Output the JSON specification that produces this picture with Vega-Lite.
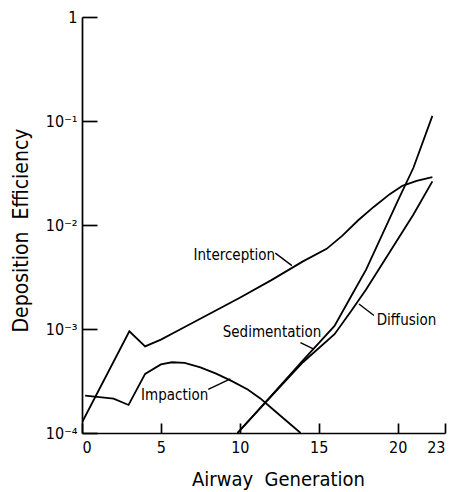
{
  "$schema": "https://vega.github.io/schema/vega-lite/v6.json",
  "width": 363,
  "height": 416,
  "autosize": "none",
  "padding": {"left": 82, "top": 17, "right": 15, "bottom": 59},
  "background": "white",
  "config": {
    "view": {"stroke": null},
    "font": "DejaVu Sans Condensed",
    "axis": {
      "grid": false,
      "domainColor": "black",
      "domainWidth": 1.7,
      "tickColor": "black",
      "tickWidth": 1.7,
      "labelColor": "black",
      "titleColor": "black",
      "labelFont": "DejaVu Sans Condensed",
      "titleFont": "DejaVu Sans Condensed",
      "titleFontWeight": "normal"
    }
  },
  "datasets": {
    "curves": [
      {"gen": 0, "eff": 0.000126, "mech": "Interception"},
      {"gen": 3, "eff": 0.00095, "mech": "Interception"},
      {"gen": 4, "eff": 0.00068, "mech": "Interception"},
      {"gen": 5, "eff": 0.00079, "mech": "Interception"},
      {"gen": 6, "eff": 0.00095, "mech": "Interception"},
      {"gen": 8, "eff": 0.00138, "mech": "Interception"},
      {"gen": 10, "eff": 0.0020, "mech": "Interception"},
      {"gen": 12, "eff": 0.00295, "mech": "Interception"},
      {"gen": 14, "eff": 0.00447, "mech": "Interception"},
      {"gen": 15.5, "eff": 0.0059, "mech": "Interception"},
      {"gen": 16.5, "eff": 0.0079, "mech": "Interception"},
      {"gen": 17.5, "eff": 0.0111, "mech": "Interception"},
      {"gen": 18.5, "eff": 0.0150, "mech": "Interception"},
      {"gen": 19.5, "eff": 0.0198, "mech": "Interception"},
      {"gen": 20.3, "eff": 0.0238, "mech": "Interception"},
      {"gen": 21.2, "eff": 0.0265, "mech": "Interception"},
      {"gen": 22.2, "eff": 0.0288, "mech": "Interception"},
      {"gen": 0.2, "eff": 0.000229, "mech": "Impaction"},
      {"gen": 2, "eff": 0.000214, "mech": "Impaction"},
      {"gen": 2.95, "eff": 0.000186, "mech": "Impaction"},
      {"gen": 4, "eff": 0.00037, "mech": "Impaction"},
      {"gen": 5, "eff": 0.000457, "mech": "Impaction"},
      {"gen": 5.7, "eff": 0.000479, "mech": "Impaction"},
      {"gen": 6.5, "eff": 0.000472, "mech": "Impaction"},
      {"gen": 7.5, "eff": 0.000428, "mech": "Impaction"},
      {"gen": 8.5, "eff": 0.000372, "mech": "Impaction"},
      {"gen": 9.5, "eff": 0.000315, "mech": "Impaction"},
      {"gen": 10.5, "eff": 0.000262, "mech": "Impaction"},
      {"gen": 11.3, "eff": 0.000215, "mech": "Impaction"},
      {"gen": 12, "eff": 0.000174, "mech": "Impaction"},
      {"gen": 13, "eff": 0.000129, "mech": "Impaction"},
      {"gen": 13.85, "eff": 0.0001, "mech": "Impaction"},
      {"gen": 9.85, "eff": 0.0001, "mech": "Sedimentation"},
      {"gen": 12, "eff": 0.000229, "mech": "Sedimentation"},
      {"gen": 14, "eff": 0.0005, "mech": "Sedimentation"},
      {"gen": 16, "eff": 0.00107, "mech": "Sedimentation"},
      {"gen": 17, "eff": 0.0020, "mech": "Sedimentation"},
      {"gen": 18, "eff": 0.00372, "mech": "Sedimentation"},
      {"gen": 19, "eff": 0.00794, "mech": "Sedimentation"},
      {"gen": 20, "eff": 0.0170, "mech": "Sedimentation"},
      {"gen": 21, "eff": 0.0355, "mech": "Sedimentation"},
      {"gen": 22.2, "eff": 0.112, "mech": "Sedimentation"},
      {"gen": 9.85, "eff": 0.0001, "mech": "Diffusion"},
      {"gen": 12, "eff": 0.000226, "mech": "Diffusion"},
      {"gen": 14, "eff": 0.000479, "mech": "Diffusion"},
      {"gen": 16, "eff": 0.00089, "mech": "Diffusion"},
      {"gen": 17, "eff": 0.00145, "mech": "Diffusion"},
      {"gen": 18, "eff": 0.0024, "mech": "Diffusion"},
      {"gen": 19, "eff": 0.00417, "mech": "Diffusion"},
      {"gen": 20, "eff": 0.00724, "mech": "Diffusion"},
      {"gen": 21, "eff": 0.0126, "mech": "Diffusion"},
      {"gen": 22.2, "eff": 0.0263, "mech": "Diffusion"}
    ],
    "labels": [
      {"gen": 9.65, "eff": 0.0051, "text": "Interception"},
      {"gen": 5.87, "eff": 0.000234, "text": "Impaction"},
      {"gen": 12.04, "eff": 0.00093, "text": "Sedimentation"},
      {"gen": 20.56, "eff": 0.00123, "text": "Diffusion"}
    ],
    "leaders": [
      {"gen": 12.25, "eff": 0.00537, "gen2": 13.3, "eff2": 0.00407},
      {"gen": 8.0, "eff": 0.000263, "gen2": 9.4, "eff2": 0.000331},
      {"gen": 13.84, "eff": 0.00074, "gen2": 14.69, "eff2": 0.00064},
      {"gen": 18.5, "eff": 0.00135, "gen2": 17.55, "eff2": 0.00174}
    ]
  },
  "layer": [
    {
      "data": {"name": "curves"},
      "mark": {"type": "line", "color": "black", "strokeWidth": 1.8, "interpolate": "linear", "clip": true},
      "encoding": {
        "x": {
          "field": "gen", "type": "quantitative",
          "scale": {"domain": [0, 23], "nice": false, "zero": false},
          "axis": {
            "values": [0, 5, 10, 15, 20, 23],
            "tickSize": -10,
            "labelPadding": 16,
            "labelFontSize": 16,
            "title": "Airway\u00a0\u00a0Generation",
            "titleFontSize": 20,
            "titleX": 196,
            "titleY": 52,
            "titleAnchor": null,
            "titleAlign": "center",
            "titleBaseline": "alphabetic"
          }
        },
        "y": {
          "field": "eff", "type": "quantitative",
          "scale": {"type": "log", "domain": [0.0001, 1], "nice": false},
          "axis": {
            "values": [0.0001, 0.001, 0.01, 0.1, 1],
            "tickSize": -15,
            "labelPadding": 20,
            "labelFontSize": 16,
            "labelExpr": "datum.value > 0.5 ? '1' : datum.value > 0.05 ? '10⁻¹' : datum.value > 0.005 ? '10⁻²' : datum.value > 0.0005 ? '10⁻³' : '10⁻⁴'",
            "title": "Deposition\u00a0\u00a0Efficiency",
            "titleFontSize": 21,
            "titleAngle": -90,
            "titleX": -55,
            "titleY": 213,
            "titleAlign": "center",
            "titleBaseline": "alphabetic"
          }
        },
        "detail": {"field": "mech", "type": "nominal"}
      }
    },
    {
      "data": {"name": "leaders"},
      "mark": {"type": "rule", "color": "black", "strokeWidth": 1.4},
      "encoding": {
        "x": {"field": "gen", "type": "quantitative"},
        "y": {"field": "eff", "type": "quantitative"},
        "x2": {"field": "gen2"},
        "y2": {"field": "eff2"}
      }
    },
    {
      "data": {"name": "labels"},
      "mark": {"type": "text", "color": "black", "fontSize": 15, "align": "center", "baseline": "middle"},
      "encoding": {
        "x": {"field": "gen", "type": "quantitative"},
        "y": {"field": "eff", "type": "quantitative"},
        "text": {"field": "text"}
      }
    }
  ]
}
